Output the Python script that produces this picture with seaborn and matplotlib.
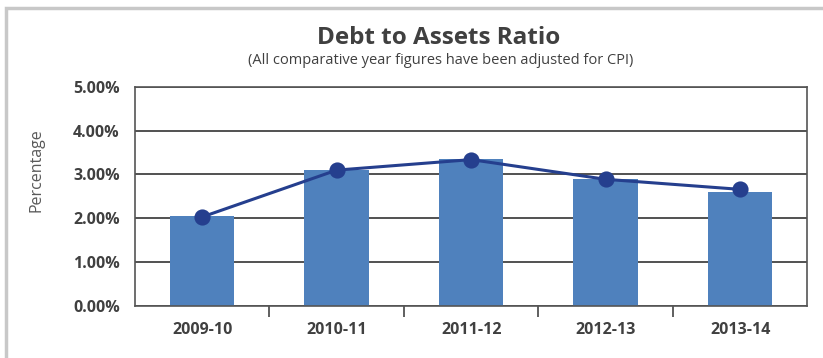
import matplotlib
matplotlib.use("Agg")
import matplotlib.pyplot as plt
import matplotlib.ticker as mticker
from matplotlib.patches import Rectangle
import seaborn as sns

# Data
years = ["2009-10", "2010-11", "2011-12", "2012-13", "2013-14"]
bar_values = [2.05, 3.10, 3.35, 2.89, 2.60]
line_values = [2.03, 3.10, 3.34, 2.89, 2.66]

sns.set_theme(style="white")
plt.rcParams["font.family"] = ["Open Sans", "DejaVu Sans"]

fig = plt.figure(figsize=(8.23, 3.58), dpi=100)
ax = fig.add_axes([0.164, 0.146, 0.817, 0.611])

bar_color = "#4F81BD"
line_color = "#253F8E"

sns.barplot(x=years, y=bar_values, color=bar_color, width=0.48,
            saturation=1, linewidth=0, ax=ax, zorder=2)
sns.pointplot(x=years, y=line_values, color=line_color, markers="o",
              markersize=10, linewidth=2.2, ax=ax, zorder=3)

ax.set_ylim(0, 5)
ax.set_xlim(-0.5, 4.5)
ax.yaxis.set_major_locator(mticker.MultipleLocator(1))
ax.yaxis.set_major_formatter(mticker.FuncFormatter(lambda v, p: f"{v:.2f}%"))
ax.grid(axis="y", color="#333333", linewidth=1.2, zorder=0)
ax.set_axisbelow(True)

for s in ax.spines.values():
    s.set_visible(True)
    s.set_color("#555555")
    s.set_linewidth(1.2)

# tick labels
ax.tick_params(axis="y", length=0, pad=11, labelsize=11.5, labelcolor="#404040")
ax.tick_params(axis="x", which="major", length=0, pad=12, labelsize=11.5,
               labelcolor="#404040")
for lbl in ax.get_xticklabels() + ax.get_yticklabels():
    lbl.set_fontweight("bold")

# tick marks between categories
ax.set_xticks([0.5, 1.5, 2.5, 3.5], minor=True)
ax.tick_params(axis="x", which="minor", direction="out", length=8,
               width=1.2, color="#444444", bottom=True)

ax.set_xlabel("")
ax.set_ylabel("Percentage", fontsize=11.5, color="#595959")
ax.yaxis.set_label_coords(-0.135, 0.62)

fig.text(0.533, 0.893, "Debt to Assets Ratio", ha="center", va="center",
         fontsize=17.5, fontweight="bold", color="#404040")
fig.text(0.535, 0.830, "(All comparative year figures have been adjusted for CPI)",
         ha="center", va="center", fontsize=10.5, color="#404040")

# outer panel frame
fig.patches.append(Rectangle((0.007, -0.05), 1.2, 0.027 + 1.0, transform=fig.transFigure,
                             fill=False, edgecolor="#c8c8c8", linewidth=2.5))

fig.savefig("out.png", dpi=100)
